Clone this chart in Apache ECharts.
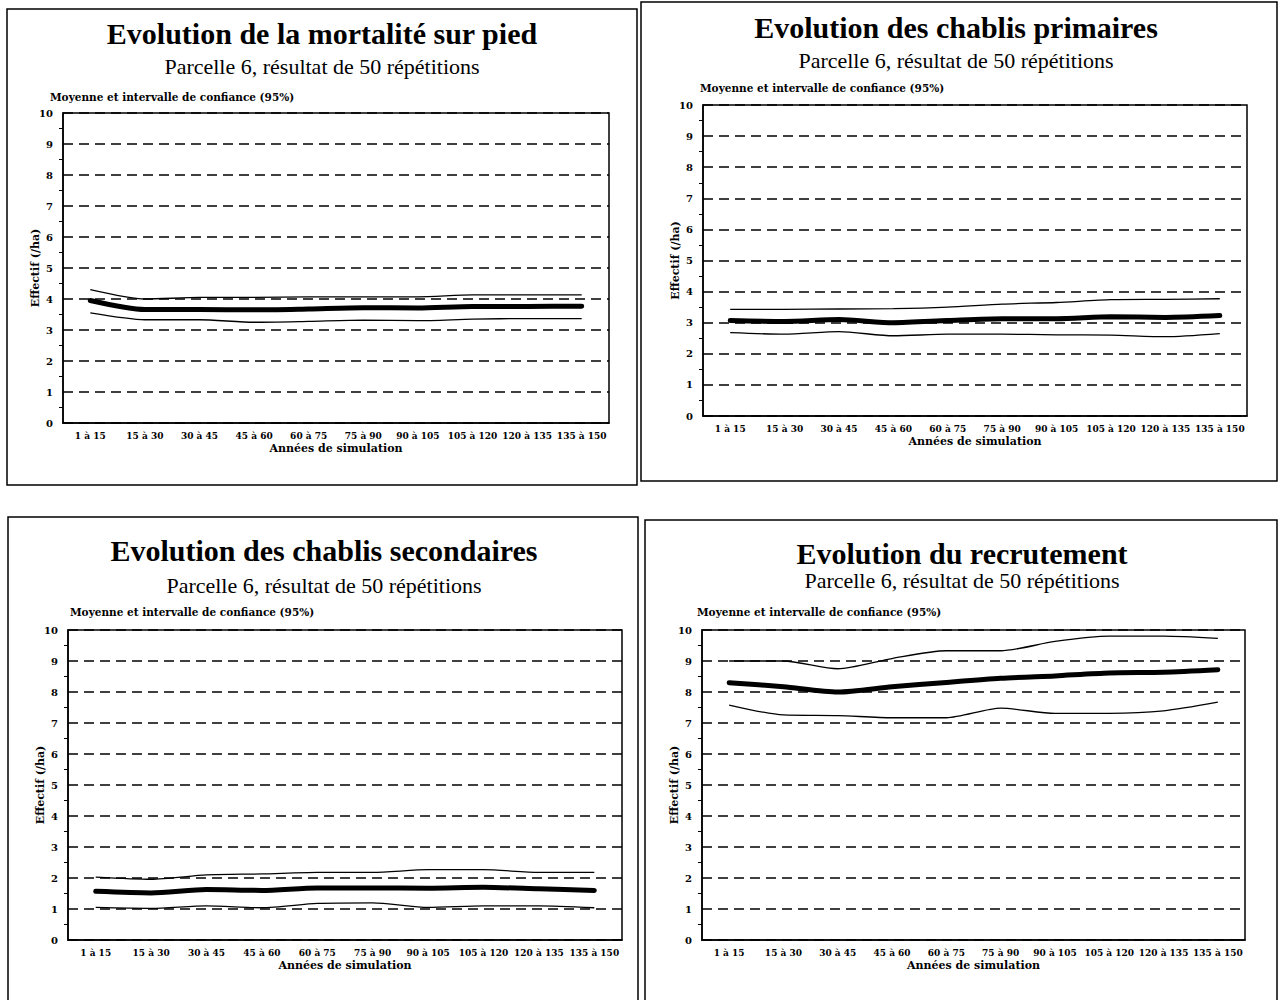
<!DOCTYPE html>
<html>
<head>
<meta charset="utf-8">
<script src="https://cdn.jsdelivr.net/npm/echarts@6/dist/echarts.min.js"></script>
<style>
html,body{margin:0;padding:0;background:#fff;}
#c{width:1280px;height:1000px;}
</style>
</head>
<body>
<div id="c"></div>
<script>
// ---- Data ----
const categories = ["1 à 15","15 à 30","30 à 45","45 à 60","60 à 75","75 à 90","90 à 105","105 à 120","120 à 135","135 à 150"];
const yTicks = [0,1,2,3,4,5,6,7,8,9,10];

const titles = ["Evolution de la mortalité sur pied","Evolution des chablis primaires","Evolution des chablis secondaires","Evolution du recrutement"];
const subtitle = "Parcelle 6, résultat de 50 répétitions";
const note = "Moyenne et intervalle de confiance (95%)";
const xName = "Années de simulation";
const yName = "Effectif (/ha)";

// Mortalité sur pied
const mortMean  = [3.95,3.66,3.66,3.65,3.68,3.72,3.71,3.76,3.76,3.77];
const mortUpper = [4.30,4.00,4.05,4.05,4.07,4.07,4.07,4.13,4.13,4.13];
const mortLower = [3.55,3.33,3.33,3.25,3.28,3.32,3.30,3.35,3.37,3.37];
// Chablis primaires
const primMean  = [3.07,3.04,3.10,3.00,3.07,3.13,3.13,3.19,3.17,3.23];
const primUpper = [3.43,3.43,3.44,3.45,3.50,3.60,3.65,3.74,3.75,3.77];
const primLower = [2.68,2.63,2.71,2.58,2.63,2.63,2.61,2.60,2.55,2.65];
// Chablis secondaires
const secMean  = [1.57,1.52,1.63,1.60,1.68,1.68,1.67,1.70,1.65,1.60];
const secUpper = [2.03,1.96,2.10,2.13,2.18,2.18,2.27,2.27,2.18,2.18];
const secLower = [1.05,1.02,1.10,1.04,1.18,1.20,1.05,1.10,1.10,1.04];
// Recrutement
const recMean  = [8.30,8.17,8.00,8.17,8.31,8.44,8.52,8.61,8.64,8.72];
const recUpper = [9.00,9.00,8.75,9.08,9.33,9.33,9.63,9.80,9.80,9.73];
const recLower = [7.58,7.26,7.24,7.17,7.17,7.48,7.31,7.31,7.39,7.67];

const panelData = [
  [mortMean, mortUpper, mortLower],
  [primMean, primUpper, primLower],
  [secMean, secUpper, secLower],
  [recMean, recUpper, recLower]
];

// ---- Layout (pixels) ----
const panels = [
  {box:[7,9,630,476],    tx:322, ty:33,  sy:66,  nx:50,  ny:97,  grid:{left:63, top:113, width:546, height:310}},
  {box:[641,2,636,479],  tx:956, ty:27,  sy:60,  nx:700, ny:88,  grid:{left:703, top:105, width:544, height:311}},
  {box:[8,517,630,490],  tx:324, ty:550, sy:585, nx:70,  ny:612, grid:{left:68, top:630, width:554, height:310}},
  {box:[645,520,632,490],tx:962, ty:553, sy:580, nx:697, ny:612, grid:{left:702, top:630, width:543, height:310}}
];

const SERIF = "'Liberation Serif','DejaVu Serif',serif";
const WSERIF = "'DejaVu Serif','Liberation Serif',serif";

const grids = [], xAxes = [], yAxes = [], series = [], graphics = [];
panels.forEach((p, i) => {
  graphics.push({type:'rect', shape:{x:p.box[0], y:p.box[1], width:p.box[2], height:p.box[3]},
    style:{fill:'none', stroke:'#000', lineWidth:1.5}, silent:true});
  graphics.push({type:'text', x:p.tx, y:p.ty, style:{text:titles[i], font:"bold 30px "+SERIF, fill:'#000', align:'center', verticalAlign:'middle'}});
  graphics.push({type:'text', x:p.tx, y:p.sy, style:{text:subtitle, font:"22px "+SERIF, fill:'#000', align:'center', verticalAlign:'middle'}});
  graphics.push({type:'text', x:p.nx, y:p.ny, style:{text:note, font:"bold 10.5px "+WSERIF, fill:'#000', align:'left', verticalAlign:'middle'}});

  grids.push({left:p.grid.left, top:p.grid.top, width:p.grid.width, height:p.grid.height,
    show:true, borderColor:'#000', borderWidth:1.5, backgroundColor:'transparent'});
  xAxes.push({type:'category', gridIndex:i, data:categories, boundaryGap:true,
    axisLine:{lineStyle:{color:'#000', width:1.5}},
    axisTick:{alignWithLabel:true, inside:true, length:9, lineStyle:{color:'#000', width:1.2}},
    axisLabel:{color:'#000', fontFamily:WSERIF, fontWeight:'bold', fontSize:9, margin:8, interval:0},
    name:xName, nameLocation:'middle', nameGap:20,
    nameTextStyle:{color:'#000', fontFamily:WSERIF, fontWeight:'bold', fontSize:11},
    splitLine:{show:false}});
  yAxes.push({type:'value', gridIndex:i, min:yTicks[0], max:yTicks[yTicks.length-1], interval:1,
    axisLine:{show:true, lineStyle:{color:'#000', width:1.5}},
    axisTick:{show:false},
    minorTick:{show:true, splitNumber:2, length:4, lineStyle:{color:'#000', width:1}},
    axisLabel:{color:'#000', fontFamily:WSERIF, fontWeight:'bold', fontSize:10, margin:10},
    name:yName, nameLocation:'middle', nameGap:22, nameRotate:90, nameMoveOverlap:false,
    nameTextStyle:{color:'#000', fontFamily:WSERIF, fontWeight:'bold', fontSize:11},
    splitLine:{show:true, lineStyle:{color:'#000', width:1.5, type:[10,6]}}});
  const [m, u, l] = panelData[i];
  series.push({type:'line', xAxisIndex:i, yAxisIndex:i, data:u, symbol:'none', smooth:0.25,
    lineStyle:{color:'#000', width:1.3}, z:3});
  series.push({type:'line', xAxisIndex:i, yAxisIndex:i, data:l, symbol:'none', smooth:0.25,
    lineStyle:{color:'#000', width:1.3}, z:3});
  series.push({type:'line', xAxisIndex:i, yAxisIndex:i, data:m, symbol:'none', smooth:0.25,
    lineStyle:{color:'#000', width:5, cap:'round'}, z:4});
});

const chart = echarts.init(document.getElementById('c'), null, {renderer:'svg', width:1280, height:1000});
chart.setOption({
  backgroundColor:'#fff',
  animation:false,
  grid:grids, xAxis:xAxes, yAxis:yAxes, series:series,
  graphic:graphics
});
</script>
</body>
</html>
